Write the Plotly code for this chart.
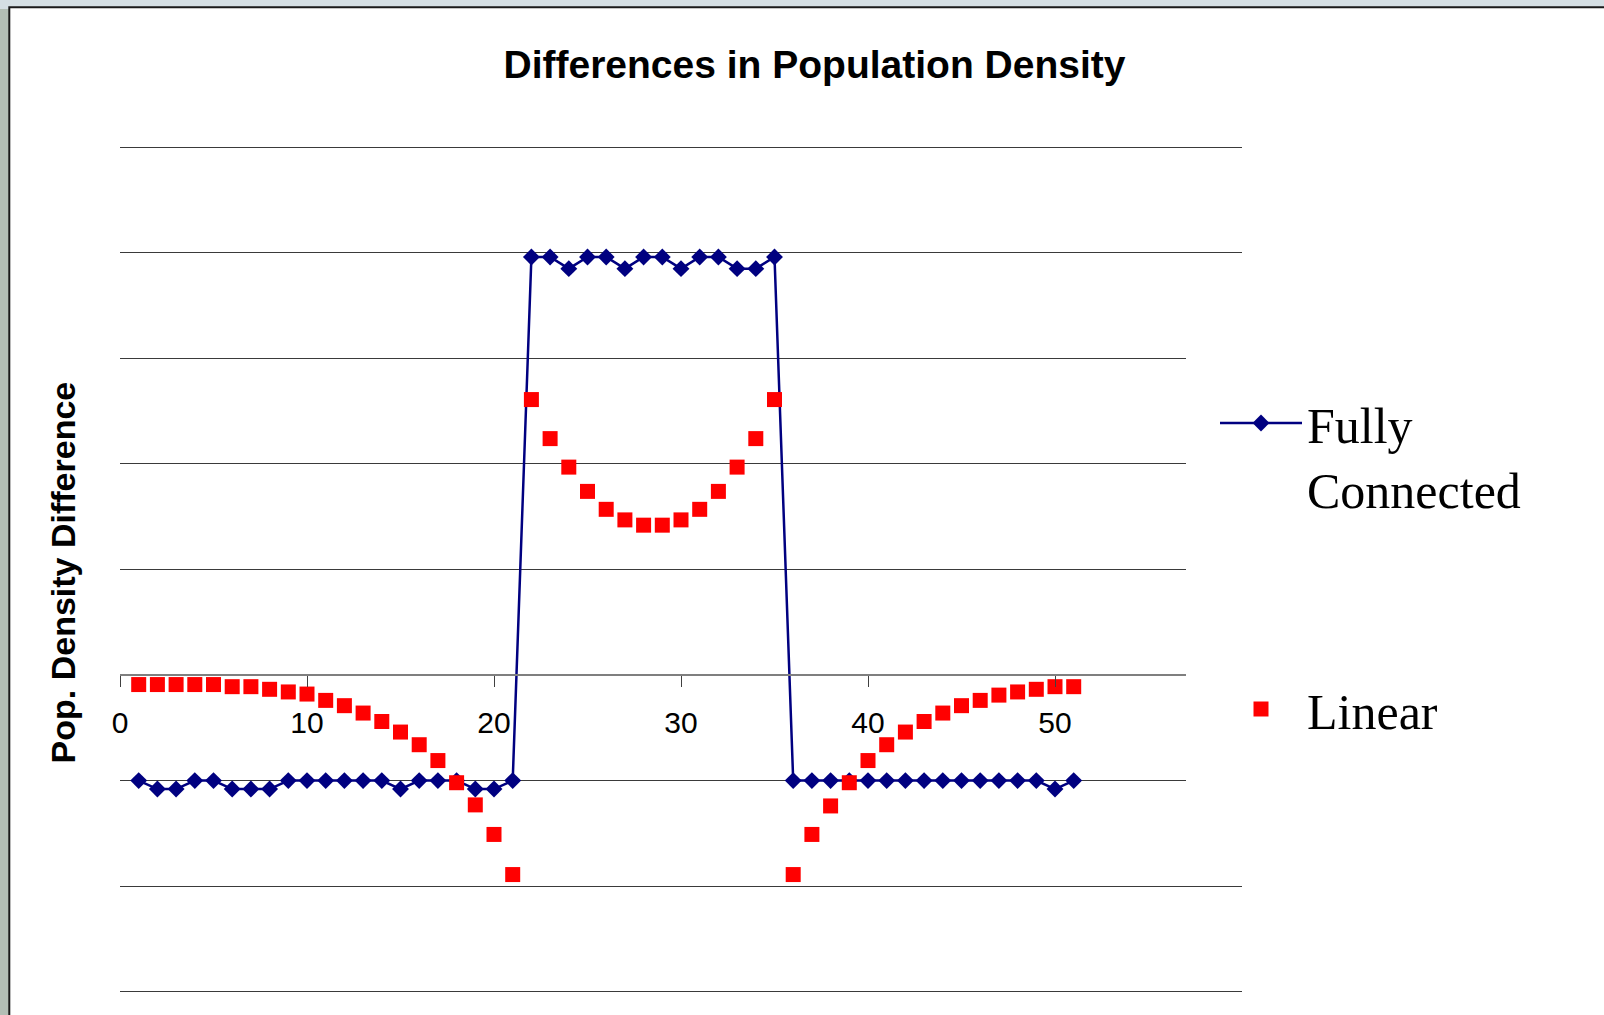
import plotly.graph_objects as go

# Cell index along the landscape
step = list(range(1, 52))

# Population density difference per cell (grid units)
fully_connected = [
    -1.00, -1.08, -1.08, -1.00, -1.00, -1.08, -1.08, -1.08, -1.00, -1.00,
    -1.00, -1.00, -1.00, -1.00, -1.08, -1.00, -1.00, -1.00, -1.08, -1.08,
    -1.00, 3.96, 3.96, 3.85, 3.96, 3.96, 3.85, 3.96, 3.96, 3.85,
    3.96, 3.96, 3.85, 3.85, 3.96, -1.00, -1.00, -1.00, -1.00, -1.00,
    -1.00, -1.00, -1.00, -1.00, -1.00, -1.00, -1.00, -1.00, -1.00, -1.08,
    -1.00,
]
linear = [
    -0.09, -0.09, -0.09, -0.09, -0.09, -0.11, -0.11, -0.135, -0.16, -0.18,
    -0.24, -0.29, -0.36, -0.44, -0.54, -0.66, -0.81, -1.02, -1.23, -1.51,
    -1.89, 2.61, 2.24, 1.97, 1.74, 1.57, 1.47, 1.42, 1.42, 1.47,
    1.57, 1.74, 1.97, 2.24, 2.61, -1.89, -1.51, -1.24, -1.02, -0.81,
    -0.66, -0.54, -0.44, -0.36, -0.29, -0.24, -0.19, -0.16, -0.135, -0.11,
    -0.11,
]

x_ticks = [0, 10, 20, 30, 40, 50]
y_range = [-3.05, 5.05]
x_range = [0, 60]

W, H = 1604, 1015
ML, MR, MT, MB = 120, 362, 142, 18
PW, PH = W - ML - MR, H - MT - MB


def px_x(p):
    return (p - ML) / PW


def px_y(p):
    return (H - MB - p) / PH


fig = go.Figure()

fig.add_trace(go.Scatter(
    x=step, y=fully_connected, name="Fully<br>Connected",
    mode="lines+markers",
    line=dict(color="#000080", width=2.5),
    marker=dict(symbol="diamond", size=13, color="#000080"),
    legend="legend",
))
fig.add_trace(go.Scatter(
    x=step, y=linear, name="Linear",
    mode="markers",
    marker=dict(symbol="square", size=15, color="#ff0000"),
    legend="legend2",
))

shapes = [
    # slide backdrop strip along the top
    dict(type="rect", xref="paper", yref="paper", layer="below",
         x0=px_x(-10), x1=px_x(W + 10), y0=px_y(9), y1=px_y(-10),
         fillcolor="#d5dfe4", line=dict(width=0)),
    # white chart sheet with its dark frame
    dict(type="rect", xref="paper", yref="paper", layer="below",
         x0=px_x(9.3), x1=px_x(W + 40), y0=px_y(H + 40), y1=px_y(7.3),
         fillcolor="white", line=dict(color="#1a1a1a", width=2)),
    # blank panel behind the legend
    dict(type="rect", xref="paper", yref="paper", layer="above",
         x0=px_x(1186), x1=px_x(W + 10), y0=px_y(830), y1=px_y(300),
         fillcolor="white", line=dict(width=0)),
]

legend_font = dict(family="Liberation Serif, Times New Roman", size=50, color="black")

fig.update_layout(
    width=W, height=H,
    margin=dict(l=ML, r=MR, t=MT, b=MB),
    paper_bgcolor="#b3beb5",
    plot_bgcolor="rgba(0,0,0,0)",
    shapes=shapes,
    title=dict(
        text="<b>Differences in Population Density</b>",
        font=dict(family="Liberation Sans, Arial", size=39, color="black"),
        x=814.5 / W, xref="container", xanchor="center",
        y=1 - 64 / H, yref="container", yanchor="middle",
    ),
    xaxis=dict(
        range=x_range, tickvals=x_ticks, showgrid=False, zeroline=False,
        anchor="free", position=(0 - y_range[0]) / (y_range[1] - y_range[0]),
        showline=True, linecolor="#7f7f7f", linewidth=1.5,
        ticks="outside", ticklen=11, tickwidth=1, tickcolor="#404040",
        ticklabelstandoff=10,
        tickfont=dict(family="Liberation Sans, Arial", size=30, color="black"),
    ),
    yaxis=dict(
        range=y_range, dtick=1, tick0=0, showgrid=True,
        gridcolor="#3a3a3a", gridwidth=1, zeroline=False,
        showticklabels=False, showline=False, ticks="",
    ),
    legend=dict(
        x=px_x(1215), y=px_y(384), xanchor="left", yanchor="top",
        xref="paper", yref="paper", bgcolor="rgba(0,0,0,0)",
        itemwidth=82, valign="top", font=legend_font,
    ),
    legend2=dict(
        x=px_x(1215), y=px_y(670), xanchor="left", yanchor="top",
        xref="paper", yref="paper", bgcolor="rgba(0,0,0,0)",
        itemwidth=82, valign="top", font=legend_font,
    ),
    annotations=[
        dict(text="<b>Pop. Density Difference</b>", textangle=-90,
             xref="paper", yref="paper", x=px_x(63.4), y=px_y(572),
             xanchor="center", yanchor="middle", showarrow=False,
             font=dict(family="Liberation Sans, Arial", size=34, color="black")),
    ],
    showlegend=True,
)

fig.write_html("out.html")
